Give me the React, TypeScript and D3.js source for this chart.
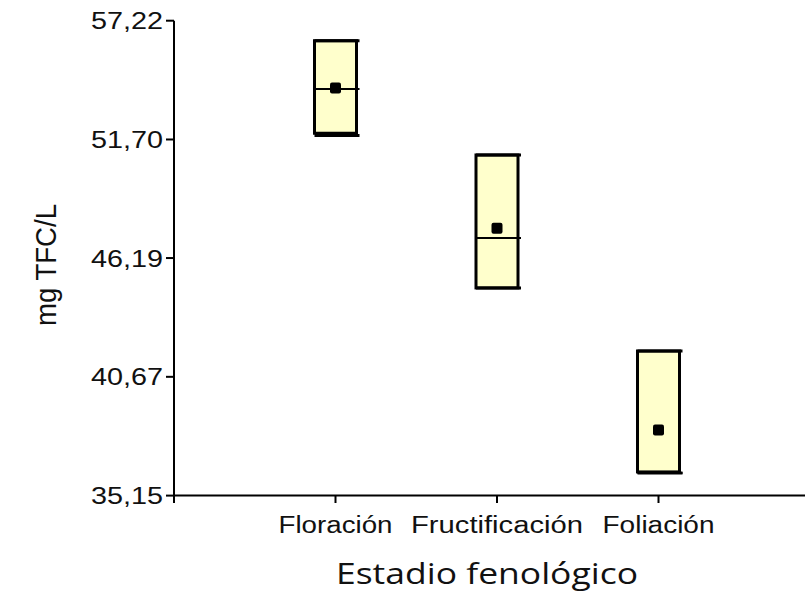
import React from "react";
import * as d3 from "d3";

const categories = ["Floración", "Fructificación", "Foliación"];
const boxTop = [56.29, 50.98, 41.87];
const boxBottom = [51.99, 44.8, 36.25];
const whiskerMin = [51.89, 44.8, 36.2];
const whiskerMax = [56.29, 50.98, 41.87];
const medians = [54.05, 47.12, 36.2];
const means = [54.09, 47.58, 38.2];
const yTicks = [35.15, 40.67, 46.19, 51.7, 57.22];
const xLabelWidths = [114, 172, 112];

const W = 805;
const H = 594;

export default function App() {
  const y = d3.scaleLinear().domain([35.15, 57.22]).range([495.6, 20.7]);
  const x = d3.scaleLinear().domain([0, 4]).range([174, 820]);
  const fmt = (v: number) => v.toFixed(2).replace(".", ",");
  const bw = 42;
  const font = "Liberation Sans, Arial, sans-serif";

  return (
    <svg width={W} height={H} style={{ position: "absolute", left: 0, top: 0 }}>
      <rect width={W} height={H} fill="#fff" />
      {categories.map((c, i) => {
        const cx = x(i + 1);
        const x0 = cx - bw / 2;
        return (
          <g key={c}>
            <rect
              x={x0}
              y={y(boxTop[i])}
              width={bw}
              height={y(boxBottom[i]) - y(boxTop[i])}
              fill="#FFFFCC"
              stroke="#000"
              strokeWidth={3}
            />
            <line x1={x0} x2={x0 + bw + 3} y1={y(whiskerMax[i])} y2={y(whiskerMax[i])} stroke="#000" strokeWidth={3} />
            <line x1={x0} x2={x0 + bw + 3} y1={y(whiskerMin[i])} y2={y(whiskerMin[i])} stroke="#000" strokeWidth={3} />
            <line x1={x0} x2={x0 + bw + 3} y1={y(medians[i])} y2={y(medians[i])} stroke="#000" strokeWidth={2} />
            <rect x={cx - 5.5} y={y(means[i]) - 5.5} width={11} height={11} rx={2} fill="#000" />
          </g>
        );
      })}
      <line x1={174} x2={174} y1={y(57.22)} y2={503} stroke="#000" strokeWidth={2} />
      {yTicks.map((t) => (
        <g key={t}>
          <line x1={166} x2={174} y1={y(t)} y2={y(t)} stroke="#000" strokeWidth={2} />
          <text
            x={163}
            y={y(t) + 8.5}
            textAnchor="end"
            fontFamily={font}
            fontSize={24}
            textLength={72}
            lengthAdjust="spacingAndGlyphs"
            fill="#111"
          >
            {fmt(t)}
          </text>
        </g>
      ))}
      <line x1={174} x2={W} y1={y(35.15)} y2={y(35.15)} stroke="#000" strokeWidth={2} />
      {categories.map((c, i) => (
        <g key={c}>
          <line x1={x(i + 1)} x2={x(i + 1)} y1={y(35.15)} y2={503} stroke="#000" strokeWidth={2} />
          <text
            x={x(i + 1)}
            y={533}
            textAnchor="middle"
            fontFamily={font}
            fontSize={23}
            textLength={xLabelWidths[i]}
            lengthAdjust="spacingAndGlyphs"
            fill="#111"
          >
            {c}
          </text>
        </g>
      ))}
      <text
        x={487}
        y={584}
        textAnchor="middle"
        fontFamily="Open Sans, Noto Sans, sans-serif"
        fontSize={29}
        textLength={302}
        lengthAdjust="spacingAndGlyphs"
        fill="#111"
      >
        Estadio fenológico
      </text>
      <text
        transform={`translate(56, 265) rotate(-90)`}
        textAnchor="middle"
        fontFamily={font}
        fontSize={29}
        textLength={122}
        lengthAdjust="spacingAndGlyphs"
        fill="#111"
      >
        mg TFC/L
      </text>
    </svg>
  );
}
